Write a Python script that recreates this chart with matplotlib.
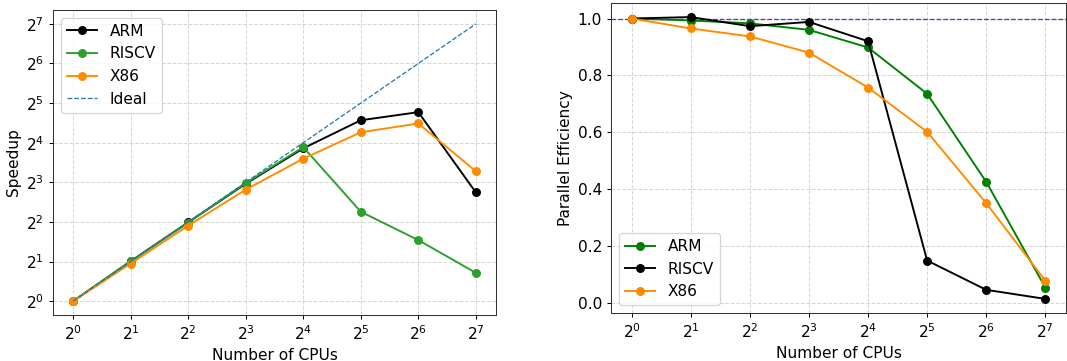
import matplotlib
matplotlib.use("Agg")
import matplotlib.pyplot as plt

cpus = [1, 2, 4, 8, 16, 32, 64, 128]

# speedup
speedup_arm = [1.0, 2.01, 3.97, 7.8, 14.5, 23.7, 27.3, 6.7]
speedup_riscv = [1.0, 2.01, 3.95, 7.9, 14.8, 4.78, 2.91, 1.64]
speedup_x86 = [1.0, 1.93, 3.75, 7.04, 12.1, 19.2, 22.4, 9.7]

# parallel efficiency
eff_arm = [1.0, 0.993, 0.983, 0.96, 0.898, 0.735, 0.425, 0.053]
eff_riscv = [1.0, 1.005, 0.973, 0.988, 0.92, 0.148, 0.045, 0.013]
eff_x86 = [1.0, 0.965, 0.937, 0.88, 0.757, 0.601, 0.35, 0.077]

plt.rcParams['font.size'] = 12
plt.rcParams['axes.edgecolor'] = '#333333'

DPI = 92
fig = plt.figure(figsize=(1067 / DPI, 361 / DPI), dpi=DPI)

# Speedup
ax1 = fig.add_axes([53 / 1067, 1 - 315 / 361, 443 / 1067, 305 / 361])
ax1.plot(cpus, speedup_arm, marker='o', color='black', label='ARM')
ax1.plot(cpus, speedup_riscv, marker='o', color='#2ca02c', label='RISCV')
ax1.plot(cpus, speedup_x86, marker='o', color='darkorange', label='X86')
ax1.plot(cpus, cpus, linestyle='--', color='tab:blue', linewidth=1, label='Ideal')
ax1.set_xscale('log', base=2)
ax1.set_yscale('log', base=2)
ax1.set_xticks(cpus)
ax1.set_yticks(cpus)
ax1.minorticks_off()
ax1.set_xlabel('Number of CPUs')
ax1.set_ylabel('Speedup')
ax1.grid(True, linestyle='--', alpha=0.5)
ax1.legend(loc='upper left')

# Parallel efficiency
ax2 = fig.add_axes([611 / 1067, 1 - 313 / 361, 455 / 1067, 310 / 361])
ax2.axhline(1.0, linestyle='--', color='#2525b0', linewidth=1, alpha=0.85)
ax2.plot(cpus, eff_arm, marker='o', color='green', label='ARM')
ax2.plot(cpus, eff_riscv, marker='o', color='black', label='RISCV')
ax2.plot(cpus, eff_x86, marker='o', color='darkorange', label='X86')
ax2.set_xscale('log', base=2)
ax2.set_xticks(cpus)
ax2.minorticks_off()
ax2.set_xlabel('Number of CPUs')
ax2.set_ylabel('Parallel Efficiency')
ax2.grid(True, linestyle='--', alpha=0.5)
ax2.legend(loc='lower left')

fig.savefig('out.png', dpi=DPI)
